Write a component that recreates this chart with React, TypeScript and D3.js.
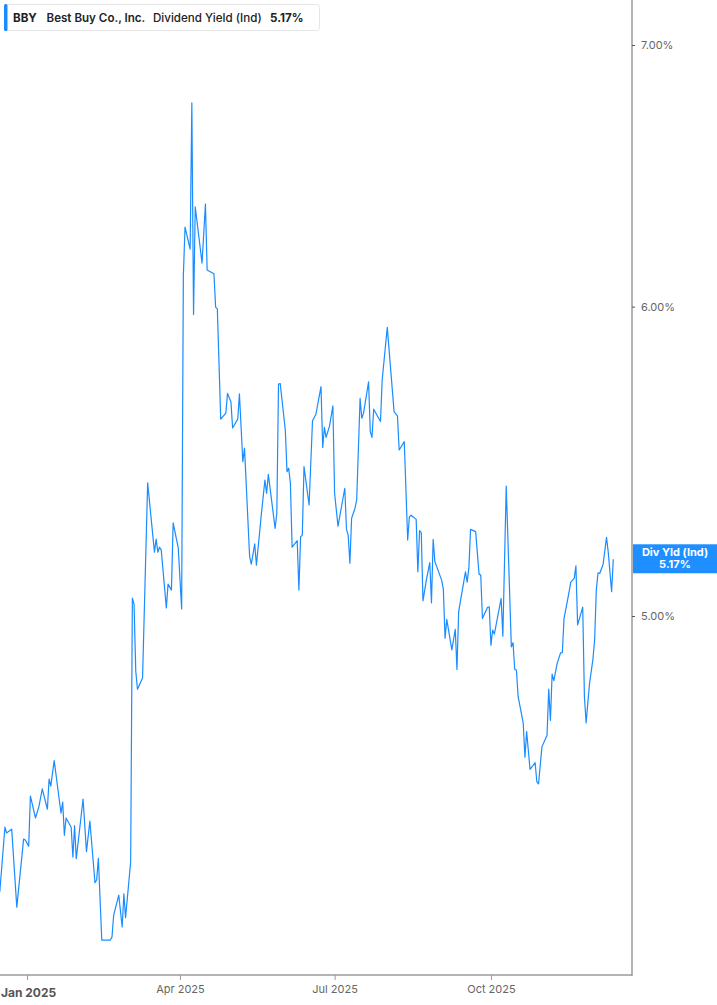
import React, { useEffect, useRef } from 'react';
import * as d3 from 'd3';

const WIDTH = 717;
const HEIGHT = 1005;

// trading days, counted from 1 Jan 2025
const days = [
  -16, -13, -12, -9, -6, -2, -1, 1, 2, 5, 7, 9, 12, 13, 14, 16, 20, 21, 22, 23, 26, 27, 28, 29, 33, 35, 37, 40, 41, 42, 44, 49, 50, 51, 54, 56, 57, 58, 61,
  62, 63, 64, 65, 68, 71, 75, 76, 77, 78, 79, 82, 83, 85, 86, 89, 91, 92, 93, 96, 97,
  98, 99, 103, 105, 106, 110, 111, 112, 114, 117, 118, 120, 121, 124, 125, 127, 128,
  131, 132, 134, 135, 138, 140, 141, 142, 146, 147, 148, 149, 152, 153, 154, 155, 156, 159, 160, 161, 162, 163,
  166, 168, 170, 173, 174, 175, 176, 178, 180, 181, 183, 185, 187, 188, 189, 190, 191, 193, 194, 196, 197, 198, 201, 202, 203, 204, 208, 209, 212,
  216, 218, 219, 222, 224, 225, 226, 229, 230, 231, 232, 233, 235, 237, 238, 239, 240, 244, 245, 246, 247, 250, 252, 253, 254,
  258, 259, 260, 261, 264, 266, 267, 268, 271, 272, 273, 274, 275, 279, 280, 282, 285, 286, 287, 288, 289, 292, 293, 294, 296, 299, 300, 301,
  303, 306, 307, 308, 309, 310, 312, 314, 315, 316, 318, 320, 322, 323, 324, 327, 328, 329, 331, 333, 334, 335, 336, 337, 339, 341, 342, 344, 345,
];

// dividend yield (%)
const yields = [
  4.25, 4.415, 4.4, 4.41, 4.212, 4.384, 4.382, 4.366, 4.497, 4.439, 4.469, 4.516, 4.462, 4.542, 4.523, 4.592, 4.452, 4.481, 4.394, 4.439, 4.415, 4.338, 4.419, 4.334, 4.489, 4.352, 4.431, 4.273, 4.28, 4.335, 4.131, 4.131, 4.138, 4.192, 4.242, 4.163, 4.245, 4.186, 4.326,
  5.053, 5.035, 4.841, 4.789, 4.821, 5.408, 5.192, 5.232, 5.192, 5.207, 5.198, 5.024, 5.095, 5.077, 5.282, 5.205, 5.021, 6.109, 6.288, 6.207, 6.765,
  5.972, 6.363, 6.156, 6.374, 6.131, 6.117, 5.998, 5.992, 5.615, 5.635, 5.701, 5.673, 5.586, 5.615, 5.699, 5.476, 5.52,
  5.178, 5.155, 5.217, 5.152, 5.314, 5.417, 5.375, 5.435, 5.265, 5.312, 5.732, 5.734, 5.579, 5.444, 5.455, 5.407, 5.207, 5.227, 5.077, 5.239, 5.244, 5.46,
  5.338, 5.61, 5.631, 5.724, 5.522, 5.588, 5.555, 5.592, 5.659, 5.375, 5.272, 5.331, 5.391, 5.262, 5.244, 5.158, 5.296, 5.328, 5.354, 5.684, 5.618, 5.634, 5.74, 5.574, 5.555, 5.648, 5.607, 5.746, 5.927,
  5.64, 5.625, 5.514, 5.541, 5.229, 5.301, 5.306, 5.293, 5.132, 5.258, 5.252, 5.045, 5.107, 5.16, 5.039, 5.231, 5.163, 5.107, 5.079, 4.935, 4.99, 4.901, 4.961, 4.845, 5.013,
  5.132, 5.101, 5.143, 5.262, 5.255, 5.125, 5.122, 4.993, 5.026, 5.027, 4.915, 4.959, 4.947, 5.052, 4.941, 5.398, 4.91, 4.922, 4.845, 4.843, 4.768, 4.694, 4.601, 4.671, 4.568, 4.586, 4.535, 4.529,
  4.629, 4.661, 4.789, 4.702, 4.832, 4.813, 4.863, 4.893, 4.893, 4.993, 5.045, 5.101, 5.112, 5.15, 4.974, 5.026, 4.768, 4.695, 4.805, 4.874, 4.93, 5.077, 5.129, 5.127, 5.155, 5.237, 5.193, 5.072, 5.17,
];

const yTicks = [5, 6, 7];
const xTickDays = [0, 90, 181, 273];
const ticker = 'BBY';
const company = 'Best Buy Co., Inc.';
const metric = 'Dividend Yield (Ind)';
const lastValue = 5.17;

const FONT = 'Inter, "Noto Sans", sans-serif';
const BLUE = '#1a8cff';

const start = new Date(Date.UTC(2025, 0, 1));
const toDate = (d: number) => d3.utcDay.offset(start, d);

const App: React.FC = () => {
  const svgRef = useRef<SVGSVGElement>(null);

  useEffect(() => {
    if (!svgRef.current) return;
    const svg = d3.select(svgRef.current);
    svg.selectAll('*').remove();

    const plotRight = 632;
    const plotBottom = 975;

    const x = d3.scaleUtc()
      .domain([toDate(-16), toDate(356)])
      .range([-0.2, plotRight]);

    const y = d3.scaleLog()
      .domain([4.0468, 7.188])
      .range([plotBottom, 0]);

    const data = d3.zip(days, yields) as [number, number][];

    const line = d3.line<[number, number]>()
      .x(d => x(toDate(d[0])))
      .y(d => y(d[1]));

    svg.append('path')
      .datum(data)
      .attr('fill', 'none')
      .attr('stroke', BLUE)
      .attr('stroke-width', 1.2)
      .attr('stroke-linejoin', 'round')
      .attr('d', line);

    // bottom axis
    const xAxis = d3.axisBottom(x)
      .tickValues(xTickDays.map(toDate))
      .tickSize(5)
      .tickSizeOuter(0)
      .tickFormat(d => d3.utcFormat('%b %Y')(d as Date));

    const gx = svg.append('g')
      .attr('transform', `translate(0,${plotBottom})`)
      .call(xAxis);
    gx.select('.domain').attr('stroke', '#b3b3b3').attr('stroke-width', 2)
      .attr('d', `M0,0H${plotRight}`);
    gx.selectAll('.tick line').attr('stroke', '#999');
    gx.selectAll('.tick text')
      .attr('font-family', FONT)
      .attr('font-size', 11)
      .attr('fill', '#666')
      .attr('dy', '0.95em');
    const firstX = x(toDate(xTickDays[0]));
    gx.selectAll<SVGTextElement, Date>('.tick text')
      .filter((_, i) => i === 0)
      .attr('font-size', 12)
      .attr('font-weight', 700)
      .attr('fill', '#555')
      .attr('text-anchor', 'start')
      .attr('x', -firstX + 0.5)
      .attr('dy', '1.2em');

    // right axis
    const yAxis = d3.axisRight(y)
      .tickValues(yTicks)
      .tickSize(3)
      .tickSizeOuter(0)
      .tickFormat(d => `${d3.format('.2f')(d as number)}%`);

    const gy = svg.append('g')
      .attr('transform', `translate(${plotRight},0)`)
      .call(yAxis);
    gy.select('.domain').attr('stroke', '#999').attr('stroke-width', 1.5)
      .attr('d', `M0,0V${plotBottom + 1}`);
    gy.selectAll('.tick line').attr('stroke', '#555');
    gy.selectAll('.tick text')
      .attr('x', 9)
      .attr('font-family', FONT)
      .attr('font-size', 11)
      .attr('fill', '#666');

    // last value tag
    const ly = y(lastValue);
    const tag = svg.append('g');
    tag.append('rect')
      .attr('x', plotRight + 1)
      .attr('y', ly - 15)
      .attr('width', WIDTH - plotRight - 1)
      .attr('height', 29)
      .attr('fill', '#1f8fff');
    tag.append('text')
      .attr('x', 675)
      .attr('y', ly - 3)
      .attr('text-anchor', 'middle')
      .attr('font-family', FONT)
      .attr('font-size', 11)
      .attr('font-weight', 700)
      .attr('fill', '#fff')
      .text('Div Yld (Ind)');
    tag.append('text')
      .attr('x', 675)
      .attr('y', ly + 9)
      .attr('text-anchor', 'middle')
      .attr('font-family', FONT)
      .attr('font-size', 11)
      .attr('font-weight', 700)
      .attr('fill', '#fff')
      .text(`${d3.format('.2f')(lastValue)}%`);

    // legend
    const lg = svg.append('g');
    lg.append('rect')
      .attr('x', 4.5).attr('y', 4.5)
      .attr('width', 315).attr('height', 26)
      .attr('rx', 3)
      .attr('fill', '#fff')
      .attr('stroke', '#e6e6e6');
    lg.append('rect')
      .attr('x', 4).attr('y', 4)
      .attr('width', 3.5).attr('height', 27)
      .attr('rx', 1.5)
      .attr('fill', BLUE);
    const lt = lg.append('text')
      .attr('x', 13)
      .attr('y', 21.5)
      .attr('font-family', FONT)
      .attr('font-size', 11.6)
      .attr('fill', '#222');
    lt.append('tspan').attr('font-weight', 700).text(ticker);
    lt.append('tspan').attr('x', 46.5).attr('font-weight', 600).text(company);
    lt.append('tspan').attr('x', 153).attr('font-weight', 500).text(metric);
    lt.append('tspan').attr('x', 270).attr('font-weight', 700).text(`${d3.format('.2f')(lastValue)}%`);
  }, []);

  return (
    <svg
      ref={svgRef}
      width={WIDTH}
      height={HEIGHT}
      style={{ position: 'absolute', left: 0, top: 0, background: '#fff' }}
    />
  );
};

export default App;
